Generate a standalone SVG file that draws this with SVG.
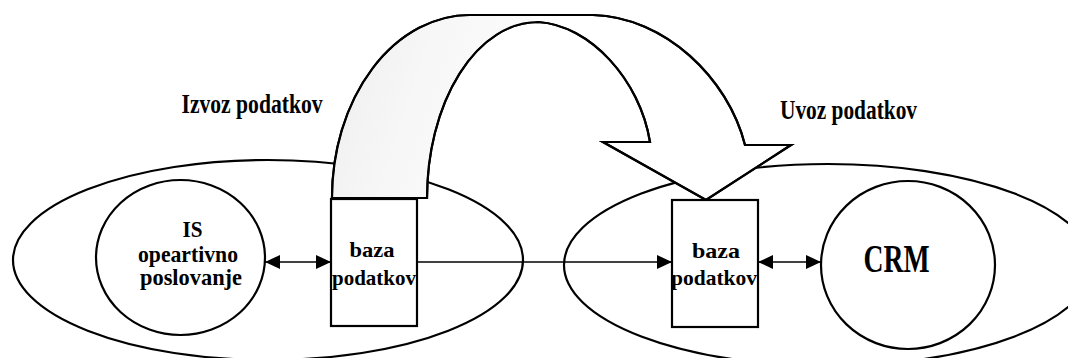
<svg xmlns="http://www.w3.org/2000/svg" width="1068" height="358" viewBox="0 0 1068 358">
  <defs>
    <style>
      .outline { fill: none; stroke: #000; stroke-width: 2.2; }
      .node { fill: #fff; stroke: #000; stroke-width: 2.2; }
      .link { fill: none; stroke: #000; stroke-width: 1.6; }
      text { font-family: 'Liberation Serif', 'DejaVu Serif', 'Times New Roman', serif; font-weight: bold; fill: #000; }
      .label { text-anchor: middle; }
    </style>
    <marker id="ah" viewBox="0 0 15 14" refX="15" refY="7" markerWidth="15" markerHeight="14" markerUnits="userSpaceOnUse" orient="auto-start-reverse">
      <path d="M0,0 L15,7 L0,14 Z" fill="#000"/>
    </marker>
    <linearGradient id="backface" x1="0" y1="0" x2="1" y2="0.3">
      <stop offset="0" stop-color="#eeeeee"/>
      <stop offset="0.5" stop-color="#f7f7f7"/>
      <stop offset="1" stop-color="#fcfcfc"/>
    </linearGradient>
  </defs>

  <rect width="1068" height="358" fill="#fff"/>

  <!-- system boundaries -->
  <g id="system-left">
    <ellipse class="outline" cx="268" cy="260" rx="255" ry="100"/>
  </g>
  <g id="system-right">
    <ellipse class="outline" cx="828" cy="265" rx="264" ry="101"/>
  </g>

  <!-- transfer arrow: back face on the left, front face and head on the right -->
  <g id="transfer-arrow">
    <path class="node" d="M332,198 A138,183 0 0 1 470,15 L593,15 C665,17 728,78 745,145 L791,145 L706,200 L603,142 L650,142 C640,80 590,25 538,22 A111,176 0 0 0 427,198 Z"/>
    <path d="M333,197 A137,182 0 0 1 470,16 L531,16 L537,22 A110,175 0 0 0 426,197 Z" fill="url(#backface)"/>
    <path class="outline" d="M332,198 A138,183 0 0 1 470,15 L593,15 C665,17 728,78 745,145 L791,145 L706,200 L603,142 L650,142 C640,80 590,25 538,22 A111,176 0 0 0 427,198 Z"/>
  </g>

  <g id="is-operations">
    <ellipse class="node" cx="180.5" cy="257.5" rx="84.5" ry="77.5"/>
    <text class="label" x="192.5" y="237" font-size="24" textLength="20" lengthAdjust="spacingAndGlyphs">IS</text>
    <text class="label" x="188" y="262" font-size="23" textLength="100" lengthAdjust="spacingAndGlyphs">opeartivno</text>
    <text class="label" x="191" y="285" font-size="23" textLength="102" lengthAdjust="spacingAndGlyphs">poslovanje</text>
  </g>

  <g id="db-left">
    <rect class="node" x="331" y="199" width="86" height="127"/>
    <text class="label" x="372" y="257" font-size="22" textLength="45" lengthAdjust="spacingAndGlyphs">baza</text>
    <text class="label" x="374" y="285" font-size="22" textLength="84" lengthAdjust="spacingAndGlyphs">podatkov</text>
  </g>

  <g id="db-right">
    <rect class="node" x="672" y="200" width="86" height="127"/>
    <text class="label" x="716" y="258" font-size="22" textLength="48" lengthAdjust="spacingAndGlyphs">baza</text>
    <text class="label" x="714" y="285" font-size="22" textLength="86" lengthAdjust="spacingAndGlyphs">podatkov</text>
  </g>

  <g id="crm">
    <ellipse class="node" cx="908" cy="265" rx="87" ry="84"/>
    <text class="label" x="896.5" y="272" font-size="39" textLength="66" lengthAdjust="spacingAndGlyphs">CRM</text>
  </g>

  <g id="export-label">
    <text x="181.5" y="113" font-size="27" textLength="141" lengthAdjust="spacingAndGlyphs">Izvoz podatkov</text>
  </g>
  <g id="import-label">
    <text x="780" y="119" font-size="28" textLength="137" lengthAdjust="spacingAndGlyphs">Uvoz podatkov</text>
  </g>

  <!-- connectors -->
  <g id="connectors">
    <line class="link" x1="265" y1="262" x2="331" y2="262" marker-start="url(#ah)" marker-end="url(#ah)"/>
    <line class="link" x1="417" y1="262" x2="672" y2="262" marker-end="url(#ah)"/>
    <line class="link" x1="758" y1="262" x2="821" y2="262" marker-start="url(#ah)" marker-end="url(#ah)"/>
  </g>
</svg>
